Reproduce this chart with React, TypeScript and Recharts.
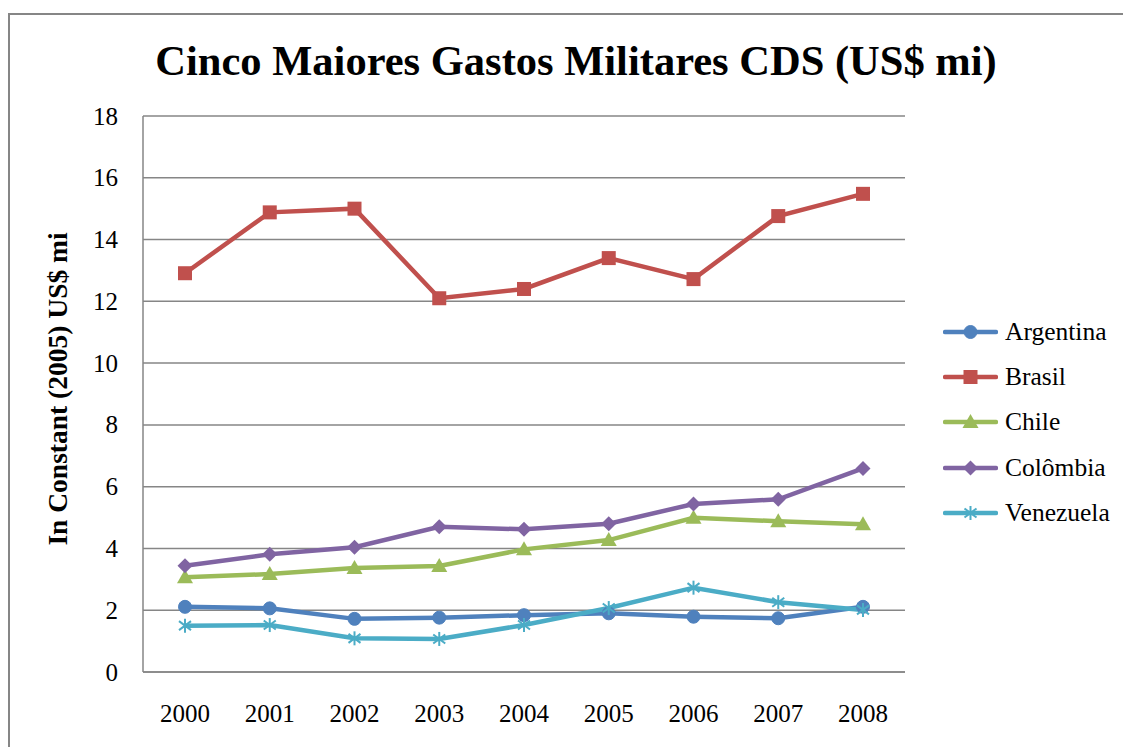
import React from 'react';
import { LineChart, Line, XAxis, YAxis, CartesianGrid, Legend } from 'recharts';

const years = ['2000', '2001', '2002', '2003', '2004', '2005', '2006', '2007', '2008'];
const argentina = [2.11, 2.06, 1.72, 1.76, 1.84, 1.9, 1.79, 1.74, 2.11];
const brasil = [12.91, 14.88, 15.0, 12.1, 12.4, 13.4, 12.72, 14.76, 15.48];
const chile = [3.07, 3.17, 3.37, 3.43, 3.97, 4.27, 4.99, 4.88, 4.78];
const colombia = [3.44, 3.81, 4.04, 4.7, 4.62, 4.8, 5.44, 5.59, 6.59];
const venezuela = [1.5, 1.52, 1.09, 1.07, 1.52, 2.07, 2.73, 2.26, 2.01];
const yTicks = [0, 2, 4, 6, 8, 10, 12, 14, 16, 18];

const title = 'Cinco Maiores Gastos Militares CDS (US$ mi)';
const yLabel = 'In Constant (2005) US$ mi';

const data = years.map((y, i) => ({
  year: y,
  Argentina: argentina[i],
  Brasil: brasil[i],
  Chile: chile[i],
  'Colômbia': colombia[i],
  Venezuela: venezuela[i],
}));

type Shape = 'circle' | 'square' | 'triangle' | 'diamond' | 'star';
const series: { key: string; color: string; shape: Shape }[] = [
  { key: 'Argentina', color: '#4f81bd', shape: 'circle' },
  { key: 'Brasil', color: '#c0504d', shape: 'square' },
  { key: 'Chile', color: '#9bbb59', shape: 'triangle' },
  { key: 'Colômbia', color: '#8064a2', shape: 'diamond' },
  { key: 'Venezuela', color: '#4bacc6', shape: 'star' },
];

const FONT = "'Liberation Serif', 'Times New Roman', serif";
const GRID = '#868686';
const TICK_FS = 25;

function marker(shape: Shape, color: string, cx: number, cy: number, key?: any) {
  switch (shape) {
    case 'circle':
      return <circle key={key} cx={cx} cy={cy} r={6.5} fill={color} stroke={color} />;
    case 'square':
      return <rect key={key} x={cx - 7} y={cy - 7} width={14} height={14} fill={color} />;
    case 'triangle':
      return (
        <polygon key={key} points={`${cx},${cy - 8} ${cx + 8},${cy + 6} ${cx - 8},${cy + 6}`} fill={color} />
      );
    case 'diamond':
      return (
        <polygon key={key} points={`${cx},${cy - 7.5} ${cx + 7.5},${cy} ${cx},${cy + 7.5} ${cx - 7.5},${cy}`} fill={color} />
      );
    case 'star':
      return (
        <g key={key} stroke={color} strokeWidth={2}>
          <line x1={cx} y1={cy - 7} x2={cx} y2={cy + 7} />
          <line x1={cx - 6} y1={cy - 4.5} x2={cx + 6} y2={cy + 4.5} />
          <line x1={cx - 6} y1={cy + 4.5} x2={cx + 6} y2={cy - 4.5} />
        </g>
      );
  }
}

const XTick = (p: any) => (
  <text x={p.x} y={p.y} dy={49.5} textAnchor="middle" fill="#000" fontSize={TICK_FS} style={{ fontFamily: FONT }}>
    {p.payload.value}
  </text>
);

const YTick = (p: any) => (
  <text x={p.x - 25} y={p.y} dy={8.5} textAnchor="end" fill="#000" fontSize={TICK_FS} style={{ fontFamily: FONT }}>
    {p.payload.value}
  </text>
);

const LegendContent = () => (
  <div style={{ fontFamily: FONT, fontSize: 25.5, color: '#000' }}>
    {series.map((s) => (
      <div key={s.key} style={{ display: 'flex', alignItems: 'center', height: 45.3 }}>
        <svg width={55} height={18} style={{ display: 'block' }}>
          <line x1={2} y1={9} x2={53} y2={9} stroke={s.color} strokeWidth={4.5} strokeLinecap="round" />
          {marker(s.shape, s.color, 27.5, 9)}
        </svg>
        <span style={{ marginLeft: 7, lineHeight: 1, fontFamily: FONT }}>{s.key}</span>
      </div>
    ))}
  </div>
);

export default function App() {
  return (
    <div style={{ position: 'relative', width: 1123, height: 739, overflow: 'hidden', background: '#fff', fontFamily: FONT }}>
      <div
        style={{
          position: 'absolute',
          left: 0,
          top: 5,
          width: 1300,
          height: 900,
          border: `2px solid ${GRID}`,
          boxSizing: 'border-box',
        }}
      />
      <div
        style={{
          position: 'absolute',
          left: 0,
          width: 1136,
          top: 28,
          textAlign: 'center',
          fontFamily: FONT,
          fontWeight: 'bold',
          fontSize: 42.5,
          lineHeight: '50px',
          color: '#000',
        }}
      >
        {title}
      </div>
      <div style={{ position: 'absolute', left: 50, top: 381, width: 0, height: 0 }}>
        <div
          style={{
            position: 'absolute',
            transform: 'translate(-50%, -50%) rotate(-90deg)',
            whiteSpace: 'nowrap',
            fontFamily: FONT,
            fontWeight: 'bold',
            fontSize: 27.5,
            lineHeight: 1,
            color: '#000',
          }}
        >
          {yLabel}
        </div>
      </div>
      <div style={{ position: 'absolute', left: 0, top: 0 }}>
        <LineChart
          width={1123}
          height={739}
          data={data}
          margin={{ top: 108, right: 226, bottom: 25, left: 0 }}
          style={{ fontFamily: FONT }}
        >
          <CartesianGrid vertical={false} stroke={GRID} strokeWidth={1.5} />
          <XAxis
            dataKey="year"
            padding={{ left: 42, right: 42 }}
            height={50}
            tickLine={false}
            tickSize={0}
            tickMargin={0}
            axisLine={{ stroke: GRID, strokeWidth: 1.5 }}
            tick={<XTick />}
            interval={0}
          />
          <YAxis
            width={135}
            domain={[0, 18]}
            ticks={yTicks}
            interval={0}
            tickLine={false}
            tickSize={0}
            tickMargin={0}
            axisLine={{ stroke: GRID, strokeWidth: 1.5 }}
            tick={<YTick />}
          />
          <Legend
            layout="horizontal"
            align="center"
            verticalAlign="middle"
            content={() => <LegendContent />}
            wrapperStyle={{ left: 935, top: 301, width: 190 }}
          />
          {series.map((s) => (
            <Line
              key={s.key}
              dataKey={s.key}
              stroke={s.color}
              strokeWidth={4.5}
              isAnimationActive={false}
              dot={(p: any) => marker(s.shape, s.color, p.cx, p.cy, `${s.key}-${p.index}`)}
              activeDot={false}
            />
          ))}
        </LineChart>
      </div>
    </div>
  );
}
